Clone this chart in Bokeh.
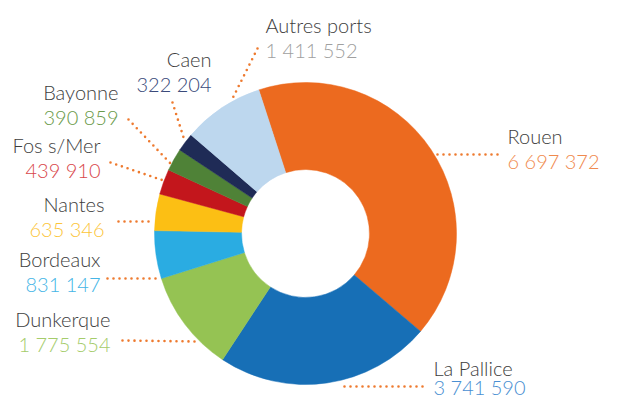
import math
from bokeh.plotting import figure
from bokeh.models import Range1d, ColumnDataSource
from bokeh.core.properties import value
from bokeh.embed import file_html
from bokeh.resources import INLINE

# ---- data ----
ports = ["Rouen", "La Pallice", "Dunkerque", "Bordeaux", "Nantes",
         "Fos s/Mer", "Bayonne", "Caen", "Autres ports"]
tonnage = [6697372, 3741590, 1775554, 831147, 635346,
           439910, 390859, 322204, 1411552]
value_labels = ["6 697 372", "3 741 590", "1 775 554", "831 147", "635 346",
                "439 910", "390 859", "322 204", "1 411 552"]

# ---- styles ----
slice_colors = ["#EC6A1F", "#176FB6", "#95C353", "#2AACE2", "#FCBF14",
                "#C3161C", "#4F8237", "#1F2B56", "#BDD7EE"]
value_colors = ["#F08A4E", "#4A8FD2", "#A5CC6B", "#45B5E6", "#FCC53A",
                "#D9474B", "#6A9A4A", "#3A4A7A", "#A0A0A0"]
name_color = "#3D3D3D"
leader_color = "#EE7A2F"

# ---- layout (page pixel coordinates) ----
cx, cy = 305, 233
r_out, r_in = 151, 64
start_deg = 108  # first slice starts here (ccw from +x), slices run clockwise

# label anchor (x, baseline y of name), alignment
label_x = [507, 433, 110, 100, 104, 100, 118, 211, 265]
label_y = [144, 376, 327, 267, 212, 153, 100, 67, 33]
label_align = ["left", "left", "right", "right", "right", "right", "right", "right", "left"]
value_gap = [25, 19, 25, 25, 25, 25, 25, 25, 25]
baseline_shift = 9  # renderer places alphabetic baseline slightly lower

leader_xs = [[437, 501], [344, 425], [122, 197], [107, 157], [118, 152],
             [110, 163], [128, 170], [172, 184], [257, 231]]
leader_ys = [[154, 154], [386, 386], [340, 341], [278, 278], [221, 221],
             [162, 180], [119, 163], [102, 140], [48, 100]]

W, H = 610, 401
p = figure(width=W, height=H, output_backend="svg", toolbar_location=None,
           x_range=Range1d(0, W), y_range=Range1d(-H, 0),
           min_border=0, outline_line_color=None)
p.axis.visible = False
p.grid.visible = False
p.background_fill_color = "white"
p.border_fill_color = "white"

total = sum(tonnage)
starts, ends = [], []
cum = 0.0
for v in tonnage:
    a0 = start_deg - cum / total * 360.0
    cum += v
    a1 = start_deg - cum / total * 360.0
    starts.append(math.radians(a0))
    ends.append(math.radians(a1))

src = ColumnDataSource(dict(start=starts, end=ends, color=slice_colors,
                            x=[cx] * len(ports), y=[-cy] * len(ports)))
p.annular_wedge(x="x", y="y", inner_radius=r_in, outer_radius=r_out,
                start_angle="start", end_angle="end", direction="clock",
                fill_color="color", line_color="color", line_width=0.5,
                source=src)

p.multi_line(xs=leader_xs, ys=[[-v for v in ys] for ys in leader_ys],
             line_color=leader_color, line_width=2.6, line_dash="0 6",
             line_cap="round")

font = value("Lato Light")
name_src = ColumnDataSource(dict(x=label_x,
                                 y=[-(v - baseline_shift) for v in label_y],
                                 text=ports, align=label_align))
val_src = ColumnDataSource(dict(x=label_x,
                                y=[-(v + g - baseline_shift) for v, g in zip(label_y, value_gap)],
                                text=value_labels, align=label_align,
                                color=value_colors))
p.text(x="x", y="y", text="text", text_align="align", text_baseline="alphabetic",
       text_font=font, text_font_size="20px", text_color=name_color, source=name_src)
p.text(x="x", y="y", text="text", text_align="align", text_baseline="alphabetic",
       text_font=font, text_font_size="20px", text_color="color", source=val_src)

open("out.html", "w").write(file_html(p, INLINE))
